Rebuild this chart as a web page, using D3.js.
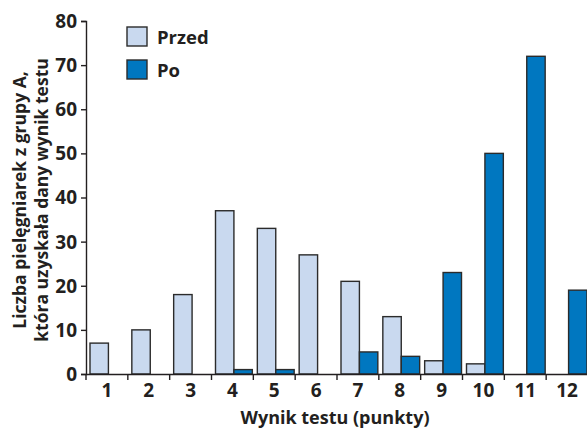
<!DOCTYPE html>
<html><head><meta charset="utf-8">
<script src="https://cdn.jsdelivr.net/npm/d3@7"></script>
<style>body{margin:0;background:#fff}svg{display:block}text{font-family:"Open Sans",sans-serif;font-weight:700;fill:#231f20}</style>
</head><body><svg id="c" width="587" height="428"></svg>
<script>
const categories = ["1","2","3","4","5","6","7","8","9","10","11","12"];
const przed = [7,10,18,37,33,27,21,13,3,2.3,0,0];
const po = [0,0,0,1,1,0,5,4,23,50,72,19];
const yTicks = [0,10,20,30,40,50,60,70,80];
const seriesNames = ["Przed","Po"];
const colors = {Przed:"#c9d9ef", Po:"#0077c0"};

const svg = d3.select("#c");
const x = d3.scaleBand().domain(categories).range([86, 588]).paddingInner(0).paddingOuter(0);
const y = d3.scaleLinear().domain([0,80]).range([374, 21]);
const inner = d3.scaleBand().domain(seriesNames).range([4, x.bandwidth()-1]);

const data = categories.map((c,i)=>({c, Przed:przed[i], Po:po[i]}));
const g = svg.append("g");
data.forEach(d=>{
  seriesNames.forEach(s=>{
    if (d[s] <= 0) return;
    g.append("rect")
      .attr("x", x(d.c)+inner(s))
      .attr("y", y(d[s]))
      .attr("width", inner.bandwidth())
      .attr("height", y(0)-y(d[s]))
      .attr("fill", colors[s])
      .attr("stroke", "#2b2b2b")
      .attr("stroke-width", 1.4);
  });
});

// Y axis
const ya = svg.append("g").attr("transform","translate(86,0)")
  .call(d3.axisLeft(y).tickValues(yTicks).tickSize(5).tickPadding(4));
ya.select(".domain").attr("stroke","#231f20").attr("stroke-width",1.4);
ya.selectAll(".tick line").attr("stroke","#231f20").attr("stroke-width",1.4);
ya.selectAll(".tick text").style("font-size","19px").attr("dy","0.34em");

// X axis
const xa = svg.append("g").attr("transform","translate(0,374)")
  .call(d3.axisBottom(x).tickSize(0));
xa.select(".domain").attr("stroke","#231f20").attr("stroke-width",1.4);
xa.selectAll(".tick text").style("font-size","19px").attr("y",23).attr("dy","0");
xa.selectAll("line.b").data(d3.range(categories.length+1).map(i=>86+i*x.bandwidth()))
  .enter().append("line").attr("class","b")
  .attr("x1",d=>d).attr("x2",d=>d).attr("y1",0).attr("y2",6)
  .attr("stroke","#231f20").attr("stroke-width",1.4);

// Axis titles
svg.append("text").attr("x",335).attr("y",424).attr("text-anchor","middle")
  .style("font-size","18px").text("Wynik testu (punkty)");
const yt = svg.append("g").attr("transform","translate(0,200) rotate(-90)");
yt.append("text").attr("x",0).attr("y",26).attr("text-anchor","middle")
  .style("font-size","17.5px").text("Liczba pielęgniarek z grupy A,");
yt.append("text").attr("x",0).attr("y",48).attr("text-anchor","middle")
  .style("font-size","17.5px").text("która uzyskała dany wynik testu");

// Legend
seriesNames.forEach((s,i)=>{
  const ly = 27 + i*33;
  svg.append("rect").attr("x",127).attr("y",ly).attr("width",20).attr("height",19)
    .attr("fill",colors[s]).attr("stroke","#2b2b2b").attr("stroke-width",1.4);
  svg.append("text").attr("x",157).attr("y",ly+17).style("font-size","18.5px").text(s);
});
</script></body></html>
